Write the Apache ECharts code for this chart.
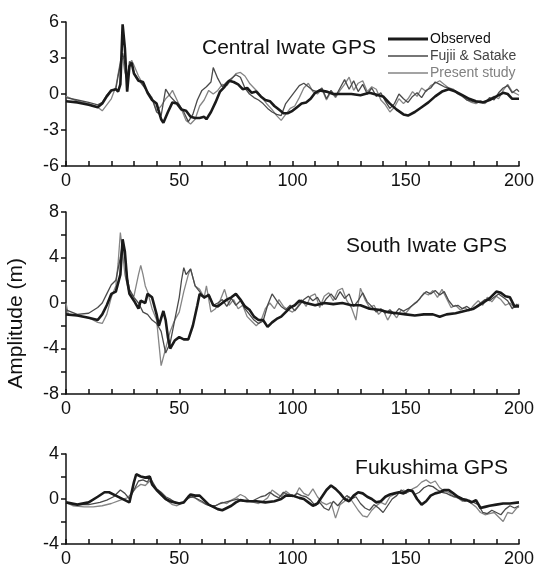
<!DOCTYPE html>
<html><head><meta charset="utf-8">
<script src="https://cdn.jsdelivr.net/npm/echarts@6/dist/echarts.min.js"></script>
<style>html,body{margin:0;padding:0;background:#fff}#c{width:549px;height:568px}</style>
</head><body><div id="c"></div>
<script>
// ---------- Panel 1: Central Iwate GPS ----------
var tObs1 = [0,5,10,14,16,18,20,22,23,24,25,26,27,28,29,30,32,34,36,38,40,42,43,45,47,49,51,53,55,57,59,61,62,64,66,68,70,72,74,76,78,80,82,84,86,88,90,92,94,96,98,100,102,104,106,108,110,112,115,118,122,126,130,134,138,140,143,146,149,151,154,157,160,163,166,169,172,175,178,181,184,187,190,193,195,197,200];
var obs1  = [-0.6,-0.7,-0.9,-1.1,-0.8,-0.2,0.3,0.4,0.2,0.8,5.8,3.8,0.2,2.3,2.6,1.7,1.1,1.0,0.1,-0.5,-0.8,-2.1,-2.4,-1.5,-0.7,-0.8,-1.3,-1.4,-1.9,-2.0,-2.0,-1.9,-2.1,-1.5,-0.7,0.2,0.6,1.1,1.0,0.8,0.4,0.5,0.1,0.2,-0.2,-0.5,-0.6,-1.0,-1.3,-1.6,-1.6,-1.4,-1.1,-0.8,-0.7,-0.4,0.1,0.3,0.2,0.0,0.0,0.0,-0.1,0.1,-0.1,-0.2,-0.8,-1.3,-1.7,-1.8,-1.5,-1.1,-0.7,-0.2,0.2,0.4,0.2,-0.1,-0.4,-0.6,-0.7,-0.5,-0.2,0.1,0.0,-0.4,-0.4];
var tFs1 = [0,5,10,14,16,18,20,22,23,25,26,27,28,29,30,32,34,36,38,40,42,44,46,48,50,52,54,56,58,60,62,64,65,67,69,71,73,75,77,79,81,83,85,87,89,91,93,95,97,99,101,103,105,107,109,111,113,115,117,119,121,123,125,127,129,131,133,135,137,139,141,143,145,147,149,151,153,155,157,159,161,163,165,167,169,171,173,175,177,179,181,183,185,187,189,191,193,195,197,199,200];
var fs1  = [-0.3,-0.5,-0.7,-0.9,-0.7,-0.1,0.3,0.4,1.5,3.4,2.5,1.0,2.7,2.6,1.8,1.2,0.7,0.2,-0.4,-1.5,-1.8,0.4,-0.2,-0.6,-0.9,-1.5,-2.3,-1.7,-0.5,0.3,0.6,1.0,2.2,1.3,0.6,1.0,1.3,1.6,1.4,0.5,0.0,-0.3,-0.5,-0.8,-1.2,-1.5,-1.7,-1.8,-0.8,-0.3,0.2,0.7,0.9,0.6,0.3,0.2,0.5,-0.4,0.3,-0.2,0.5,1.2,0.4,1.1,0.2,0.8,0.0,0.5,-0.2,0.1,-0.6,-1.2,-0.8,0.0,-0.4,-0.7,-0.2,0.1,-0.3,0.3,0.5,1.0,0.8,0.6,0.5,0.3,0.0,-0.2,-0.5,-0.6,-0.7,-0.6,-0.7,-0.3,-0.5,0.1,0.5,0.7,0.1,0.4,0.2];
var tPs1 = [0,5,10,14,16,18,20,22,24,25,26,27,28,29,30,32,34,36,38,40,42,44,46,47,49,51,53,55,57,59,61,63,65,67,69,71,73,75,77,79,81,83,85,87,89,91,93,95,97,99,101,103,105,107,109,111,113,115,117,119,121,123,125,127,129,131,133,135,137,139,141,143,145,147,149,151,153,155,157,159,161,163,165,167,169,171,173,175,177,179,181,183,185,187,189,191,193,195,197,199,200];
var ps1  = [-0.2,-0.6,-0.8,-1.1,-1.4,-0.9,-0.4,0.6,2.7,3.0,1.8,1.2,2.4,2.8,2.4,1.5,0.8,0.2,-0.3,-1.4,-1.0,-0.4,0.0,0.3,-0.5,-1.3,-2.2,-2.5,-2.1,-1.0,-0.5,0.3,0.0,0.3,0.8,0.7,1.2,1.7,1.8,1.5,0.9,0.5,0.1,-0.4,-0.9,-1.3,-1.8,-2.2,-1.7,-1.2,-1.0,-0.3,0.5,0.9,0.2,0.0,0.4,-0.5,0.2,-0.3,0.3,0.8,1.4,0.3,0.9,1.1,0.2,0.6,0.4,-0.5,-0.9,-1.5,-1.1,-0.4,-0.8,-0.4,0.2,-0.2,0.5,0.2,0.7,0.9,1.1,0.8,0.5,0.4,0.1,-0.1,-0.5,-0.7,-0.8,-0.6,-0.8,-0.4,-0.2,-0.4,0.3,0.8,0.2,0.0,-0.1];

// ---------- Panel 2: South Iwate GPS ----------
var tObs2 = [0,5,10,14,16,18,20,22,24,25,26,27,28,30,32,33,35,36,38,40,41,43,44,45,46,48,50,52,54,56,58,59,61,63,65,67,69,71,73,75,77,79,81,83,85,87,89,91,93,95,97,99,101,103,106,110,114,118,122,126,130,134,138,142,146,150,154,158,162,165,168,172,176,180,184,187,190,192,194,196,198,200];
var obs2  = [-1.0,-1.1,-1.3,-1.5,-1.0,-0.2,0.8,1.0,2.5,5.6,4.5,2.0,0.8,0.2,-0.5,0.2,0.0,0.8,0.5,-1.0,-2.0,-0.7,-1.5,-3.0,-4.0,-3.3,-3.0,-3.2,-3.2,-2.0,-0.2,0.8,0.5,0.7,-0.2,-0.3,0.0,0.3,0.5,0.8,0.3,-0.3,-0.6,-1.2,-1.5,-1.5,-2.1,-1.7,-1.4,-1.2,-0.8,-0.4,-0.2,0.2,0.0,-0.2,0.0,-0.1,0.0,-0.2,-0.2,-0.5,-0.6,-0.8,-0.9,-1.0,-1.1,-1.0,-1.0,-1.2,-1.0,-0.9,-0.7,-0.5,0.0,0.4,1.0,0.9,0.6,0.5,-0.3,-0.3];
var tFs2 = [0,5,10,14,16,18,20,22,24,25,26,27,28,30,32,34,36,38,40,42,44,46,48,50,51,52,53,55,57,59,61,63,65,67,69,71,73,75,77,79,81,83,85,87,89,91,93,95,97,99,101,103,105,107,109,111,113,115,117,119,121,123,125,127,129,131,133,135,137,139,141,143,145,147,149,151,153,155,157,159,161,163,165,167,169,171,173,175,177,179,181,183,185,187,189,191,193,195,197,199,200];
var fs2  = [-0.6,-1.0,-0.9,-0.4,0.0,0.8,1.6,2.0,4.0,5.3,4.0,2.3,1.2,0.5,0.0,-0.8,-1.0,-1.5,-1.8,-2.5,-4.4,-3.5,-1.5,0.5,2.0,3.1,2.5,3.0,1.5,1.0,0.4,0.8,-0.2,0.0,0.3,-0.3,0.4,-0.2,0.2,-0.5,-1.0,-1.5,-1.8,-1.6,-0.2,0.8,0.2,-0.3,-0.6,-0.2,-0.7,-0.2,0.3,0.6,0.2,0.5,-0.2,0.4,0.8,0.3,1.0,0.4,0.8,-0.3,0.2,0.9,0.1,-0.3,-0.8,-0.5,-0.9,-0.6,-1.0,-0.5,-0.7,-0.5,-0.2,0.1,0.6,1.0,0.8,1.1,0.7,1.0,0.2,-0.3,-0.2,-0.5,-0.3,-0.6,-0.3,0.0,0.3,0.2,0.5,0.8,0.5,0.2,-0.5,-0.1,-0.3];
var tPs2 = [0,1,5,10,14,16,18,20,22,23,24,25,26,28,30,32,33,34,35,36,38,40,42,44,46,48,50,52,54,55,57,59,61,62,64,66,68,70,72,74,76,78,80,82,84,86,88,90,92,94,96,98,100,102,104,106,108,110,112,114,116,118,120,122,124,126,128,130,132,134,136,138,140,142,144,146,148,150,152,154,156,158,160,162,164,166,168,170,172,174,176,178,180,182,184,186,188,190,192,194,196,198,200];
var ps2  = [0.0,-1.0,-1.1,-1.3,-1.7,-1.8,-1.0,0.5,1.5,3.5,6.2,4.5,2.5,0.8,0.6,2.5,3.3,2.5,1.5,1.0,-0.5,-1.5,-5.5,-4.0,-2.5,-1.5,-0.8,1.0,2.5,3.0,1.5,1.2,0.5,1.5,-0.8,-0.5,0.2,1.2,-0.2,0.3,-0.5,-0.2,-1.2,-1.6,-2.0,-1.6,-0.5,0.0,-0.5,0.3,-0.3,-0.6,-0.8,-0.4,0.3,-0.3,0.6,0.8,-0.4,0.6,0.9,0.2,1.1,1.3,0.2,-0.4,-1.5,1.3,0.3,-0.4,-0.2,-1.0,-0.6,-1.5,-0.8,-1.3,-0.6,-0.9,-0.4,0.0,0.3,0.9,0.7,1.1,0.5,1.2,0.4,-0.4,-0.2,-0.6,-0.4,-0.7,-0.2,0.2,-0.2,0.5,0.1,0.6,0.3,-0.2,0.0,-0.4,-0.1];

// ---------- Panel 3: Fukushima GPS ----------
var tObs3 = [0,5,10,14,17,19,22,26,28,30,31,33,35,37,38,40,42,44,46,48,50,52,54,55,57,59,61,63,65,67,69,71,73,75,77,80,84,88,92,95,97,100,103,105,107,109,111,113,115,117,119,121,123,125,127,129,131,133,135,137,139,141,143,145,147,149,151,153,155,157,159,161,163,165,167,169,171,173,175,177,179,181,183,185,187,190,193,196,200];
var obs3  = [-0.3,-0.5,-0.3,0.2,0.6,0.6,0.3,-0.1,-0.3,1.5,2.2,2.0,1.9,2.0,1.3,0.8,0.4,0.0,-0.2,-0.3,-0.4,-0.3,0.2,0.4,0.3,0.3,-0.1,-0.5,-0.7,-0.9,-1.0,-0.8,-0.6,-0.3,-0.1,-0.2,-0.2,-0.3,-0.2,0.0,0.3,0.3,0.1,0.0,-0.3,-0.6,-0.4,0.2,0.8,1.2,0.9,0.5,0.0,-0.2,0.3,0.6,0.5,0.2,0.0,-0.3,-0.2,0.2,0.4,0.5,0.6,0.5,0.8,0.7,0.0,-0.5,-0.2,0.3,0.5,0.6,0.8,0.8,0.5,0.2,0.0,-0.1,-0.3,-0.1,-0.8,-0.7,-0.6,-0.5,-0.4,-0.4,-0.3];
var tFs3 = [0,5,10,15,18,21,24,26,28,30,32,34,36,37,38,40,42,44,46,48,50,52,54,56,58,60,62,64,66,68,70,72,74,76,78,80,82,84,86,88,90,92,94,96,98,100,102,104,106,108,110,112,114,116,118,120,122,124,126,128,130,132,134,136,138,140,142,144,146,148,150,152,154,156,158,160,162,164,166,168,170,172,174,176,178,180,182,184,186,188,190,192,194,196,198,200];
var fs3  = [-0.3,-0.5,-0.5,-0.3,-0.1,0.2,0.8,0.5,0.0,0.8,1.6,1.7,1.5,2.0,1.6,0.9,0.6,0.2,0.0,-0.3,-0.4,-0.3,0.1,0.2,0.0,-0.2,-0.5,-0.6,-0.6,-0.4,-0.3,-0.2,-0.1,0.0,-0.2,-0.1,-0.2,0.0,0.2,0.3,0.6,0.3,0.1,0.6,0.4,0.2,0.5,0.3,0.2,-0.1,-0.6,-0.3,-0.8,-1.0,-0.2,-0.6,-0.1,0.3,0.0,0.2,-0.4,-0.8,-1.0,-0.5,-0.8,-1.2,-0.6,0.0,0.3,0.8,0.5,0.8,0.4,0.6,1.0,1.2,1.1,0.8,0.6,0.5,0.3,0.2,0.0,-0.2,-0.1,-0.3,-0.5,-1.2,-1.3,-1.0,-1.2,-1.4,-0.9,-0.6,-0.8,-0.6];
var tPs3 = [0,3,8,12,16,20,24,27,29,31,33,35,37,39,41,43,45,47,49,51,53,55,57,59,61,63,65,67,69,71,73,75,77,79,81,83,85,87,89,91,93,95,97,99,101,103,105,107,109,111,113,115,117,119,121,123,125,127,129,131,133,135,137,139,141,143,145,147,149,151,153,155,157,159,161,163,165,167,169,171,173,175,177,179,181,183,185,187,189,191,193,195,197,199,200];
var ps3  = [-0.3,-0.6,-0.7,-0.7,-0.6,-0.4,-0.1,0.1,0.5,1.0,1.3,1.2,1.6,1.0,0.6,0.2,-0.2,-0.5,-0.6,-0.4,-0.1,0.2,0.1,-0.2,-0.4,-0.5,-0.7,-0.5,-0.3,-0.4,-0.1,0.1,0.4,0.2,-0.2,-0.3,-0.4,-0.2,0.1,0.8,0.5,0.2,0.7,0.4,0.2,1.0,0.5,0.3,0.9,0.2,-0.3,-0.5,-0.3,-1.7,-0.5,-0.2,0.2,-0.4,-1.0,-1.5,-1.6,-1.0,-0.6,-0.3,-0.5,0.2,0.4,0.6,0.8,0.6,0.9,1.1,1.5,1.7,1.4,1.6,1.0,0.7,0.6,0.2,0.1,-0.2,-0.1,-0.4,-0.7,-1.2,-1.4,-1.3,-1.2,-1.6,-2.0,-1.2,-1.3,-0.8,-0.7];

var seriesNames = ['Observed','Fujii & Satake','Present study'];
var panelTitles = ['Central Iwate GPS','South Iwate GPS','Fukushima GPS'];
var yAxisTitle = 'Amplitude (m)';
var yRanges = [[-6,6,3],[-8,8,4],[-4,4,4]];
var yMinorSplits = [1,2,2];
var xTickLabels = [0,50,100,150,200];

function pairs(t,v){ return t.map(function(x,i){return [x,v[i]];}); }
var panels = [
  [pairs(tObs1,obs1),pairs(tFs1,fs1),pairs(tPs1,ps1)],
  [pairs(tObs2,obs2),pairs(tFs2,fs2),pairs(tPs2,ps2)],
  [pairs(tObs3,obs3),pairs(tFs3,fs3),pairs(tPs3,ps3)]
];
var colors = ['#1a1a1a','#4a4a4a','#858585'];
var widths = [2.6,1.3,1.3];
var FONT = 'Liberation Sans';
var grids = [
  {left:66,right:30,top:22,height:144},
  {left:66,right:30,top:212,height:182},
  {left:66,right:30,top:454,height:92}
];
// legend line icons: tiny corner dots keep the box height, line in the middle
var iconThick = 'path://M0,0H0.1V0.01H0Z M0,3.6H40V6.4H0Z M39.9,10H40V9.99H39.9Z';
var iconThin  = 'path://M0,0H0.1V0.01H0Z M0,4.35H40V5.65H0Z M39.9,10H40V9.99H39.9Z';

var xAxes=[],yAxes=[],series=[];
for (var p=0;p<3;p++){
  xAxes.push({type:'value',gridIndex:p,min:0,max:200,interval:50,
    axisLine:{show:true,onZero:false,lineStyle:{color:'#111',width:1.5}},
    axisTick:{show:true,inside:true,length:5,lineStyle:{color:'#111',width:1.5}},
    minorTick:{show:true,splitNumber:5,length:5,lineStyle:{color:'#111',width:1.5}},
    splitLine:{show:false},
    axisLabel:{fontFamily:FONT,fontSize:18,color:'#111',margin:6,
      formatter:function(v){return xTickLabels.indexOf(v)>=0?String(v):'';}}
  });
  yAxes.push({type:'value',gridIndex:p,min:yRanges[p][0],max:yRanges[p][1],interval:yRanges[p][2],
    axisLine:{show:true,onZero:false,lineStyle:{color:'#111',width:1.5}},
    axisTick:{show:true,inside:false,length:5,lineStyle:{color:'#111',width:1.5}},
    minorTick:{show:yMinorSplits[p]>1,splitNumber:yMinorSplits[p],length:5,lineStyle:{color:'#111',width:1.5}},
    splitLine:{show:false},
    axisLabel:{fontFamily:FONT,fontSize:18,color:'#111',margin:7}
  });
  for (var s=2;s>=0;s--){
    series.push({type:'line',name:seriesNames[s],xAxisIndex:p,yAxisIndex:p,
      data:panels[p][s],showSymbol:false,symbol:'none',animation:false,z:10-s,
      lineStyle:{color:colors[s],width:widths[s]},itemStyle:{color:colors[s]}});
  }
}
var chart = echarts.init(document.getElementById('c'),null,{renderer:'canvas'});
chart.setOption({
  backgroundColor:'#fff',
  animation:false,
  grid:grids,
  xAxis:xAxes,
  yAxis:yAxes,
  series:series,
  legend:{left:383,top:27,orient:'vertical',itemGap:3,itemWidth:40,itemHeight:13,
    data:[
      {name:'Observed',icon:iconThick,itemStyle:{color:'#1a1a1a'},textStyle:{color:'#111'}},
      {name:'Fujii & Satake',icon:iconThin,itemStyle:{color:'#4a4a4a'},textStyle:{color:'#444'}},
      {name:'Present study',icon:iconThin,itemStyle:{color:'#858585'},textStyle:{color:'#808080'}}
    ],
    textStyle:{fontFamily:FONT,fontSize:14,padding:[0,0,0,-3]},selectedMode:false},
  title:[
    {text:panelTitles[0],left:197,top:33,textStyle:{fontFamily:FONT,fontSize:21,fontWeight:'normal',color:'#111'}},
    {text:panelTitles[1],right:37,top:231,textStyle:{fontFamily:FONT,fontSize:21,fontWeight:'normal',color:'#111'}},
    {text:panelTitles[2],right:36,top:453,textStyle:{fontFamily:FONT,fontSize:21,fontWeight:'normal',color:'#111'}}
  ],
  graphic:[{type:'text',left:6,top:258,rotation:Math.PI/2,
    style:{text:yAxisTitle,fontFamily:FONT,fontSize:21,fill:'#111'}}]
});
</script></body></html>
